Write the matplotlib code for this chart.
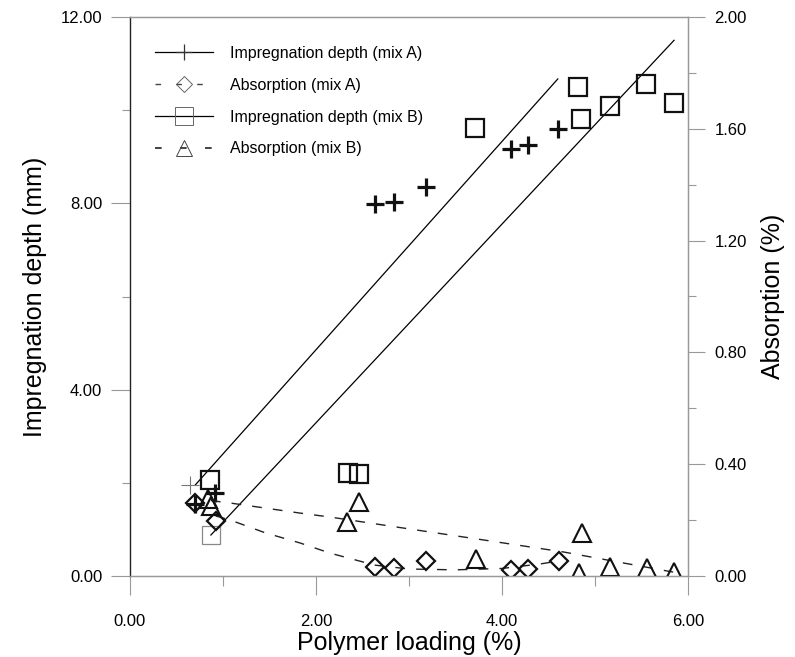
import matplotlib
matplotlib.use("Agg")
import matplotlib.pyplot as plt
from matplotlib.lines import Line2D
from matplotlib.ticker import MultipleLocator, FormatStrFormatter

plt.rcParams['font.family'] = ['Liberation Sans', 'DejaVu Sans']

# Impregnation depth, mix A (crosses) - mm
depth_a_x = [0.70, 0.91, 2.63, 2.84, 3.18, 4.10, 4.28, 4.60]
depth_a_y = [1.55, 1.78, 7.99, 8.03, 8.35, 9.17, 9.25, 9.60]
# faint point at the start of the cluster
depth_a_faint_x = [0.645]
depth_a_faint_y = [1.95]

# Impregnation depth, mix B (squares) - mm
depth_b_x = [0.86, 2.34, 2.46, 3.71, 4.82, 4.85, 5.16, 5.55, 5.85]
depth_b_y = [2.06, 2.21, 2.19, 9.62, 10.50, 9.81, 10.09, 10.56, 10.15]
depth_b_faint_x = [0.87]
depth_b_faint_y = [0.88]

# Absorption, mix A (diamonds) - %
abs_a_x = [0.70, 0.92, 2.63, 2.84, 3.18, 4.10, 4.28, 4.61]
abs_a_y = [0.26, 0.197, 0.032, 0.029, 0.054, 0.021, 0.025, 0.054]

# Absorption, mix B (triangles) - %
abs_b_x = [0.84, 0.87, 2.33, 2.46, 3.72, 4.83, 4.86, 5.16, 5.56, 5.85]
abs_b_y = [0.275, 0.25, 0.193, 0.265, 0.061, 0.010, 0.154, 0.032, 0.029, 0.015]

# fitted lines
fit_depth_a_x = [0.70, 4.60]
fit_depth_a_y = [1.95, 10.67]
fit_depth_b_x = [0.87, 5.85]
fit_depth_b_y = [0.88, 11.50]
fit_abs_a_x = [0.92, 1.08, 1.45, 1.83, 2.15, 2.63, 3.00, 3.50, 4.00, 4.41, 4.61]
fit_abs_a_y = [0.215, 0.200, 0.155, 0.118, 0.082, 0.039, 0.025, 0.022, 0.027, 0.043, 0.054]
fit_abs_b_x = [0.87, 1.10, 1.83, 2.15, 2.87, 3.80, 4.30, 4.66, 5.84]
fit_abs_b_y = [0.270, 0.260, 0.225, 0.211, 0.175, 0.129, 0.104, 0.086, 0.014]

legend_labels = ['Impregnation depth (mix A)', 'Absorption (mix A)',
                 'Impregnation depth (mix B)', 'Absorption (mix B)']

spine_gray = '#999999'

fig = plt.figure(figsize=(7.95, 6.57), dpi=100)
ax = fig.add_axes([130 / 795, 81 / 657, 558 / 795, 559 / 657])
ax2 = ax.twinx()

dash = (0, (7, 8))

# regression lines
ax.plot(fit_depth_a_x, fit_depth_a_y, color='black', lw=0.9)
ax.plot(fit_depth_b_x, fit_depth_b_y, color='black', lw=0.9)
ax2.plot(fit_abs_a_x, fit_abs_a_y, color='#222222', lw=1.0, linestyle=dash)
ax2.plot(fit_abs_b_x, fit_abs_b_y, color='#222222', lw=1.0, linestyle=dash)

# data points
ax.plot(depth_a_x, depth_a_y, linestyle='none', marker='+', ms=13, mew=2.3,
        color='#111111')
ax.plot(depth_a_faint_x, depth_a_faint_y, linestyle='none', marker='+', ms=13,
        mew=0.8, color='#777777')
ax.plot(depth_b_x, depth_b_y, linestyle='none', marker='s', ms=13, mew=1.6,
        mfc='none', mec='#111111')
ax.plot(depth_b_faint_x, depth_b_faint_y, linestyle='none', marker='s', ms=13,
        mew=0.9, mfc='none', mec='#888888')
ax2.plot(abs_a_x, abs_a_y, linestyle='none', marker='D', ms=8.7, mew=1.6,
         mfc='none', mec='#111111')
ax2.plot(abs_b_x, abs_b_y, linestyle='none', marker='^', ms=13, mew=1.5,
         mfc='none', mec='#111111')

# axes limits / ticks
ax.set_xlim(0, 6)
ax.set_ylim(0, 12)
ax2.set_ylim(0, 2)

ax.xaxis.set_major_locator(MultipleLocator(2))
ax.xaxis.set_minor_locator(MultipleLocator(1))
ax.yaxis.set_major_locator(MultipleLocator(4))
ax.yaxis.set_minor_locator(MultipleLocator(2))
ax2.yaxis.set_major_locator(MultipleLocator(0.4))
ax2.yaxis.set_minor_locator(MultipleLocator(0.2))
ax.xaxis.set_major_formatter(FormatStrFormatter('%.2f'))
ax.yaxis.set_major_formatter(FormatStrFormatter('%.2f'))
ax2.yaxis.set_major_formatter(FormatStrFormatter('%.2f'))

ax.tick_params(axis='x', which='major', direction='out', length=14, width=0.8,
               color=spine_gray, labelsize=12, pad=13)
ax.tick_params(axis='x', which='minor', direction='out', length=7, width=0.8,
               color=spine_gray)
ax.tick_params(axis='y', which='major', direction='out', length=14, width=0.8,
               color=spine_gray, labelsize=12, pad=6)
ax.tick_params(axis='y', which='minor', direction='out', length=6, width=0.8,
               color=spine_gray)
ax2.tick_params(axis='y', which='major', direction='out', length=12, width=0.8,
                color=spine_gray, labelsize=12, pad=7)
ax2.tick_params(axis='y', which='minor', direction='out', length=6, width=0.8,
                color=spine_gray)

for a in (ax, ax2):
    for side in ('top', 'bottom', 'right'):
        a.spines[side].set_color(spine_gray)
        a.spines[side].set_linewidth(0.9)
ax.spines['left'].set_color('#222222')
ax.spines['left'].set_linewidth(1.0)
ax2.spines['left'].set_visible(False)

ax.set_xlabel('Polymer loading (%)', fontsize=18, labelpad=2)
ax.set_ylabel('Impregnation depth (mm)', fontsize=18, labelpad=10)
ax2.set_ylabel('Absorption (%)', fontsize=18, rotation=90, labelpad=10)

# legend
handles = [
    Line2D([], [], color='black', lw=0.9, marker='+', ms=11, mew=0.9,
           mec='#333333'),
    Line2D([], [], color='#444444', lw=1.0, linestyle=(0, (4, 11)), marker='D',
           ms=8, mew=0.7, mfc='none', mec='#666666'),
    Line2D([], [], color='black', lw=0.9, marker='s', ms=13, mew=0.7,
           mfc='none', mec='#666666'),
    Line2D([], [], color='#222222', lw=1.2, linestyle=(0, (4, 11)), marker='^',
           ms=12, mew=0.7, mfc='none', mec='#444444'),
]
ax.legend(handles, legend_labels, loc='upper left',
          bbox_to_anchor=(25 / 558, (576 - 46) / 559), borderaxespad=0,
          borderpad=0, frameon=False, fontsize=11.5, handlelength=3.6,
          handletextpad=1.1, labelspacing=1.05)

plt.savefig('out.png', dpi=100)
